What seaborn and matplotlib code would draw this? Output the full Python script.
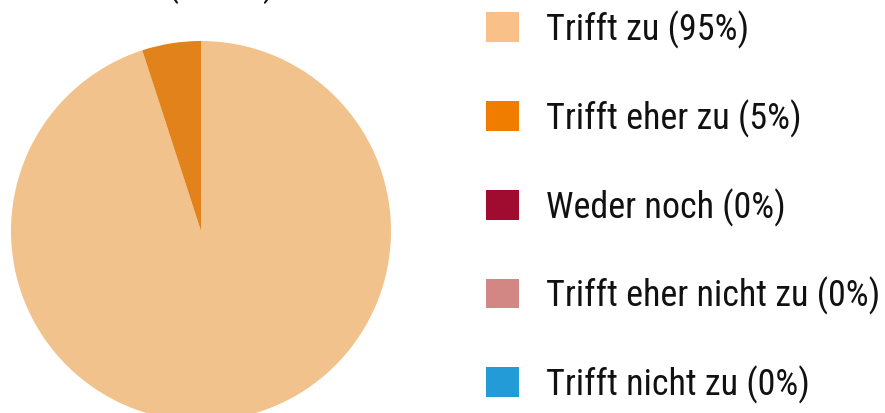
import matplotlib
matplotlib.use("Agg")
import matplotlib.pyplot as plt
import seaborn as sns
from matplotlib.patches import Patch

categories = ["Trifft zu", "Trifft eher zu", "Weder noch", "Trifft eher nicht zu", "Trifft nicht zu"]
values = [95, 5, 0, 0, 0]
slice_colors = ["#F1C28C", "#E2821A", "#A00B30", "#D38784", "#239BD7"]
legend_colors = ["#F9C08A", "#F07D00", "#A00B30", "#D38784", "#239BD7"]
title_text = "(n = 20)"

sns.set_theme(style="white")
plt.rcParams['font.family'] = ['Roboto Condensed', 'Liberation Sans', 'DejaVu Sans']

fig = plt.figure(figsize=(8.85, 4.14), dpi=100)
W, H = 885, 414
cx, cy, r = 201, 232, 190
ax = fig.add_axes([(cx - r) / W, (H - cy - r) / H, 2 * r / W, 2 * r / H])

nz = [(v, c) for v, c in zip(values, slice_colors) if v > 0]
ax.pie([v for v, _ in nz], colors=[c for _, c in nz], startangle=90,
       counterclock=False, radius=1, wedgeprops=dict(linewidth=0))
ax.set_xlim(-1, 1)
ax.set_ylim(-1, 1)
ax.set_aspect("equal")
ax.axis("off")

fig.text(221 / W, 1 + 4 / H, title_text, ha="center", va="baseline",
         fontsize=25, color="#111111")

handles = [Patch(facecolor=c, edgecolor="none") for c in legend_colors]
labels = [f"{cat} ({v}%)" for cat, v in zip(categories, values)]
fig.legend(handles, labels, loc="upper left", bbox_to_anchor=(472 / W, 1 + 4 / H),
           frameon=False, fontsize=26, handlelength=0.9, handleheight=0.9,
           handletextpad=0.75, labelspacing=1.40, borderaxespad=0,
           labelcolor="#111111")

fig.savefig("out.png", dpi=100)
